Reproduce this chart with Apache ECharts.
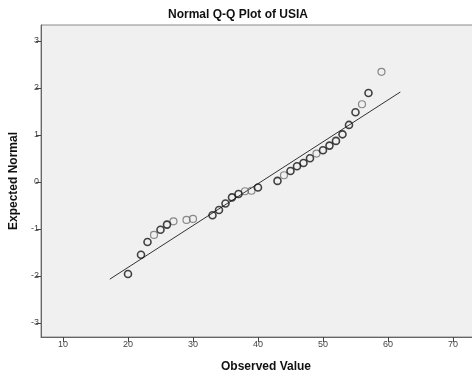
<!DOCTYPE html>
<html>
<head>
<meta charset="utf-8">
<script src="https://cdn.jsdelivr.net/npm/echarts@6/dist/echarts.min.js"></script>
<style>html,body{margin:0;padding:0;background:#fff}#c{width:472px;height:377px}</style>
</head>
<body>
<div id="c"></div>
<script>
// Observed values and expected normal values (darker markers = repeated values)
const darkX = [20, 22, 23, 25, 26, 33, 34, 35, 36, 37, 40, 43, 45, 46, 47, 48, 50, 51, 52, 53, 54, 55, 57];
const darkY = [-1.96, -1.55, -1.28, -1.02, -0.91, -0.71, -0.60, -0.46, -0.33, -0.26, -0.12, 0.02, 0.23, 0.33, 0.40, 0.50, 0.67, 0.77, 0.87, 1.01, 1.21, 1.48, 1.89];
const grayX = [24, 27, 29, 30, 38, 39, 44, 49, 56, 59];
const grayY = [-1.13, -0.84, -0.81, -0.79, -0.20, -0.19, 0.14, 0.60, 1.65, 2.34];
// Reference line end points
const lineX = [17.2, 61.9];
const lineY = [-2.07, 1.91];
// Tick labels
const xTicks = [10, 20, 30, 40, 50, 60, 70];
const yTicks = [-3, -2, -1, 0, 1, 2, 3];

const pairs = (xs, ys) => xs.map((x, i) => [x, ys[i]]);
const font = "'Liberation Sans', Arial, sans-serif";

const chart = echarts.init(document.getElementById('c'), null, {renderer: 'canvas'});
chart.setOption({
  animation: false,
  backgroundColor: '#ffffff',
  title: {
    text: 'Normal Q-Q Plot of USIA',
    left: 168, top: 9, padding: 0,
    textStyle: {fontFamily: font, fontSize: 12, fontWeight: 'bold', color: '#111'}
  },
  grid: {
    left: 41, top: 25, right: -19, bottom: 40,
    outerBoundsMode: 'none', containLabel: false,
    show: true, backgroundColor: '#f0f0f0', borderColor: '#8a8a8a', borderWidth: 1
  },
  xAxis: {
    type: 'value', min: 6.615, max: 75.85,
    name: 'Observed Value', nameLocation: 'middle', nameGap: 24,
    nameTextStyle: {fontFamily: font, fontSize: 12, fontWeight: 'bold', color: '#111'},
    splitLine: {show: false},
    axisLine: {show: true, onZero: false, lineStyle: {color: '#666', width: 1}},
    axisTick: {show: true, inside: false, length: 5, customValues: xTicks, lineStyle: {color: '#444'}},
    axisLabel: {customValues: xTicks, fontFamily: font, fontSize: 9, color: '#444', margin: 3}
  },
  yAxis: {
    type: 'value', min: -3.30, max: 3.335,
    name: 'Expected Normal', nameLocation: 'middle', nameGap: 14,
    nameTextStyle: {fontFamily: font, fontSize: 12, fontWeight: 'bold', color: '#111'},
    splitLine: {show: false},
    axisLine: {show: true, onZero: false, lineStyle: {color: '#666', width: 1}},
    axisTick: {show: true, inside: false, length: 5, customValues: yTicks, lineStyle: {color: '#444'}},
    axisLabel: {customValues: yTicks, fontFamily: font, fontSize: 9, color: '#444', margin: 2}
  },
  series: [
    {
      type: 'line', data: pairs(lineX, lineY), symbol: 'none',
      lineStyle: {color: '#333', width: 1}, silent: true, z: 2
    },
    {
      type: 'scatter', data: pairs(grayX, grayY), symbol: 'circle', symbolSize: 7,
      itemStyle: {color: 'rgba(0,0,0,0)', borderColor: '#6e6e6e', borderWidth: 1.2}, z: 3
    },
    {
      type: 'scatter', data: pairs(darkX, darkY), symbol: 'circle', symbolSize: 7,
      itemStyle: {color: 'rgba(0,0,0,0)', borderColor: '#141414', borderWidth: 1.6}, z: 4
    }
  ]
});
</script>
</body>
</html>
